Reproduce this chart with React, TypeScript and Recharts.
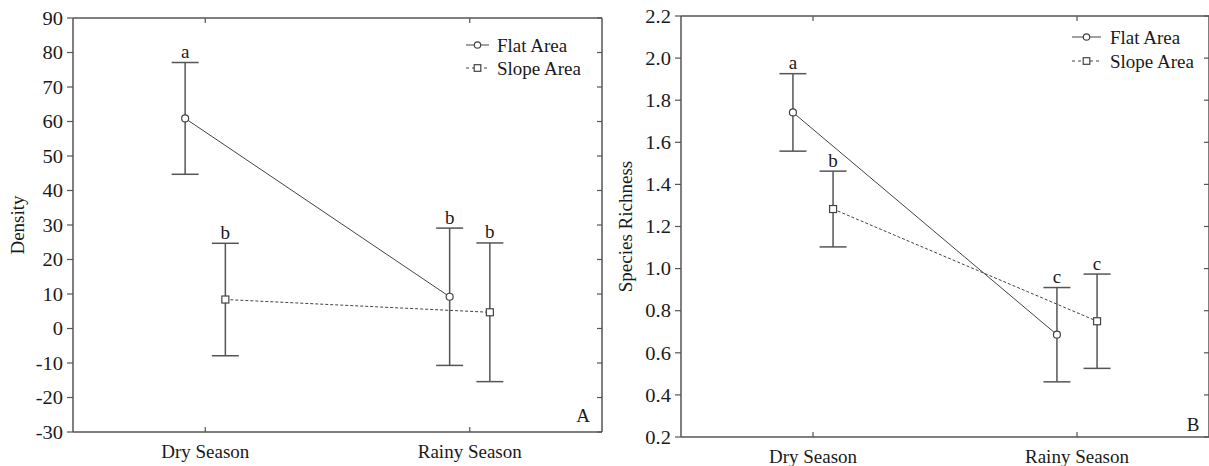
import React from 'react';
import { ComposedChart, Scatter, XAxis, YAxis, ErrorBar, Legend } from 'recharts';

// ---------- data ----------
const seasons = ['Dry Season', 'Rainy Season'];
const groupNames = ['Flat Area', 'Slope Area'];

// Panel A – Density
const densityFlatMean = [60.9, 9.2];
const densityFlatErr = [16.2, 19.9];
const densityFlatLetters = ['a', 'b'];
const densitySlopeMean = [8.4, 4.7];
const densitySlopeErr = [16.3, 20.1];
const densitySlopeLetters = ['b', 'b'];
const densityTicks = [-30, -20, -10, 0, 10, 20, 30, 40, 50, 60, 70, 80, 90];

// Panel B – Species Richness
const richFlatMean = [1.742, 0.686];
const richFlatErr = [0.184, 0.224];
const richFlatLetters = ['a', 'c'];
const richSlopeMean = [1.283, 0.75];
const richSlopeErr = [0.18, 0.224];
const richSlopeLetters = ['b', 'c'];
const richTicks = [0.2, 0.4, 0.6, 0.8, 1.0, 1.2, 1.4, 1.6, 1.8, 2.0, 2.2];

// ---------- styles ----------
const FONT = '"Liberation Serif", "Times New Roman", serif';
const TEXT = '#1a1a1a';
const AXIS = '#555';
const LINE = '#444';
const DODGE = 0.076;
const X_TICK_SIZE = 4;
const X_MARGIN = 15;

const buildSeries = (means: number[], errs: number[], dodge: number) =>
  means.map((m, i) => ({ x: i + dodge, y: m, err: errs[i] }));
const buildLetters = (means: number[], errs: number[], letters: string[], dodge: number) =>
  means.map((m, i) => ({ x: i + dodge, y: m + errs[i], letter: letters[i] }));

const SText = ({ x, y, anchor = 'middle', size = 18, sx = 1, children }: any) => (
  <g transform={`translate(${x},${y}) scale(${sx},1)`}>
    <text x={0} y={0} textAnchor={anchor} dominantBaseline="central" fontFamily={FONT} fontSize={size} fill={TEXT}>
      {children}
    </text>
  </g>
);

const CircleShape = (p: any) => (
  <circle cx={p.cx} cy={p.cy} r={3.5} fill="#fff" stroke={LINE} strokeWidth={1.2} />
);
const SquareShape = (p: any) => (
  <rect x={p.cx - 3.5} y={p.cy - 3.5} width={7} height={7} fill="#fff" stroke={LINE} strokeWidth={1.2} />
);
const LetterShape = (p: any) => (
  <SText x={p.cx} y={p.cy - 11} size={19}>
    {p.payload?.letter}
  </SText>
);
const NoShape = () => <g />;

const makeYTick = (digits: number) => (p: any) => (
  <SText x={p.x} y={p.y} anchor="end" size={19} sx={1.08}>
    {Number(p.payload.value).toFixed(digits)}
  </SText>
);

const XTick = (p: any) => {
  const axisY = p.y - X_MARGIN - X_TICK_SIZE;
  const idx = Math.round(Number(p.payload.value));
  return (
    <g>
      <line x1={p.x} x2={p.x} y1={axisY} y2={axisY - 5} stroke={AXIS} strokeWidth={1.2} />
      <SText x={p.x} y={p.y} size={19}>
        {seasons[idx]}
      </SText>
    </g>
  );
};

const makeTitle = (text: string, dx: number) => (props: any) => {
  const vb = props.viewBox || props;
  const cx = vb.x + dx;
  const cy = vb.y + vb.height / 2;
  return (
    <text
      transform={`translate(${cx},${cy}) rotate(-90)`}
      textAnchor="middle"
      dominantBaseline="central"
      fontFamily={FONT}
      fontSize={19}
      fill={TEXT}
    >
      {text}
    </text>
  );
};

const makeCorner = (text: string, dx: number, dy: number) => (props: any) => {
  const vb = props.viewBox || props;
  return (
    <SText x={vb.x - dx} y={vb.y + vb.height - dy} size={19}>
      {text}
    </SText>
  );
};

const makeLegend = (sampleW: number, gap: number, rowGap: number) => () => (
  <svg width={160} height={52} style={{ display: 'block', overflow: 'visible' }}>
    {groupNames.map((name, i) => {
      const cy = 13 + i * rowGap;
      const x0 = 6;
      const mid = x0 + sampleW / 2;
      return (
        <g key={name}>
          <line
            x1={x0}
            x2={x0 + sampleW}
            y1={cy}
            y2={cy}
            stroke={LINE}
            strokeWidth={1}
            strokeDasharray={i === 1 ? '3 3' : undefined}
          />
          {i === 0 ? (
            <circle cx={mid} cy={cy} r={3.2} fill="#fff" stroke={LINE} strokeWidth={1.2} />
          ) : (
            <rect x={mid - 3.3} y={cy - 3.3} width={6.6} height={6.6} fill="#fff" stroke={LINE} strokeWidth={1.2} />
          )}
          <text x={x0 + sampleW + gap} y={cy} dominantBaseline="central" fontFamily={FONT} fontSize={19} fill={TEXT}>
            {name}
          </text>
        </g>
      );
    })}
  </svg>
);

type PanelProps = {
  width: number;
  height: number;
  margin: any;
  yWidth: number;
  xHeight: number;
  domain: [number, number];
  ticks: number[];
  digits: number;
  flatMean: number[];
  flatErr: number[];
  flatLetters: string[];
  slopeMean: number[];
  slopeErr: number[];
  slopeLetters: string[];
  title: string;
  titleDx: number;
  corner: string;
  cornerDx: number;
  cornerDy: number;
  legendPos: { left: number; top: number };
  legendSample: number;
  legendGap: number;
  legendRow: number;
};

const Panel = (p: PanelProps) => {
  const flat = buildSeries(p.flatMean, p.flatErr, -DODGE);
  const slope = buildSeries(p.slopeMean, p.slopeErr, DODGE);
  const letters = [
    ...buildLetters(p.flatMean, p.flatErr, p.flatLetters, -DODGE),
    ...buildLetters(p.slopeMean, p.slopeErr, p.slopeLetters, DODGE),
  ];
  const YTick = makeYTick(p.digits);
  return (
    <ComposedChart width={p.width} height={p.height} margin={p.margin}>
      <XAxis
        xAxisId="bottom"
        dataKey="x"
        type="number"
        domain={[-0.5, 1.5]}
        ticks={[0, 1]}
        interval={0}
        allowDataOverflow
        height={p.xHeight}
        tickLine={false}
        tickSize={X_TICK_SIZE}
        tickMargin={X_MARGIN}
        tick={XTick}
        axisLine={{ stroke: AXIS, strokeWidth: 1.5 }}
      />
      <XAxis
        xAxisId="top"
        dataKey="x"
        type="number"
        orientation="top"
        mirror
        domain={[-0.5, 1.5]}
        ticks={[0, 1]}
        interval={0}
        allowDataOverflow
        height={1}
        tickSize={5}
        tickFormatter={() => ''}
        tickLine={{ stroke: AXIS, strokeWidth: 1.2 }}
        axisLine={{ stroke: AXIS, strokeWidth: 1.5 }}
      />
      <YAxis
        yAxisId="left"
        dataKey="y"
        type="number"
        domain={p.domain}
        ticks={p.ticks}
        interval={0}
        allowDataOverflow
        width={p.yWidth}
        tickSize={6}
        tickMargin={4}
        tick={YTick}
        tickLine={{ stroke: AXIS, strokeWidth: 1.2 }}
        axisLine={{ stroke: AXIS, strokeWidth: 1.5 }}
        label={makeTitle(p.title, p.titleDx)}
      />
      <YAxis
        yAxisId="right"
        dataKey="y"
        type="number"
        orientation="right"
        mirror
        domain={p.domain}
        ticks={p.ticks}
        interval={0}
        allowDataOverflow
        width={1}
        tickSize={5}
        tickFormatter={() => ''}
        tickLine={{ stroke: AXIS, strokeWidth: 1.2 }}
        axisLine={{ stroke: AXIS, strokeWidth: 1.5 }}
        label={makeCorner(p.corner, p.cornerDx, p.cornerDy)}
      />
      <Legend
        layout="horizontal"
        verticalAlign="middle"
        align="center"
        content={makeLegend(p.legendSample, p.legendGap, p.legendRow)}
        wrapperStyle={{ position: 'absolute', left: p.legendPos.left, top: p.legendPos.top, width: 160, height: 52 }}
      />
      <Scatter
        name="frame"
        data={flat}
        xAxisId="top"
        yAxisId="right"
        legendType="none"
        shape={NoShape}
        isAnimationActive={false}
      />
      <Scatter
        name={groupNames[0]}
        data={flat}
        xAxisId="bottom"
        yAxisId="left"
        line={{ stroke: LINE, strokeWidth: 1 }}
        shape={CircleShape}
        isAnimationActive={false}
      >
        <ErrorBar dataKey="err" direction="y" width={13.5} stroke={AXIS} strokeWidth={1.5} isAnimationActive={false} />
      </Scatter>
      <Scatter
        name={groupNames[1]}
        data={slope}
        xAxisId="bottom"
        yAxisId="left"
        line={{ stroke: LINE, strokeWidth: 1, strokeDasharray: '3 2' }}
        shape={SquareShape}
        isAnimationActive={false}
      >
        <ErrorBar dataKey="err" direction="y" width={13.5} stroke={AXIS} strokeWidth={1.5} isAnimationActive={false} />
      </Scatter>
      <Scatter
        name="letters"
        data={letters}
        xAxisId="bottom"
        yAxisId="left"
        legendType="none"
        shape={LetterShape}
        isAnimationActive={false}
      />
    </ComposedChart>
  );
};

export default function App() {
  return (
    <div style={{ position: 'absolute', left: 0, top: 0, width: 1209, height: 466, background: '#fff', overflow: 'hidden' }}>
      <div style={{ position: 'absolute', left: 0, top: 0 }}>
        <Panel
          width={610}
          height={466}
          margin={{ top: 18, right: 8, bottom: 0, left: 0 }}
          yWidth={73}
          xHeight={34}
          domain={[-30, 90]}
          ticks={densityTicks}
          digits={0}
          flatMean={densityFlatMean}
          flatErr={densityFlatErr}
          flatLetters={densityFlatLetters}
          slopeMean={densitySlopeMean}
          slopeErr={densitySlopeErr}
          slopeLetters={densitySlopeLetters}
          title="Density"
          titleDx={17}
          corner="A"
          cornerDx={18}
          cornerDy={17}
          legendPos={{ left: 460, top: 32 }}
          legendSample={23}
          legendGap={8}
          legendRow={23}
        />
      </div>
      <div style={{ position: 'absolute', left: 610, top: 0 }}>
        <Panel
          width={599}
          height={466}
          margin={{ top: 16, right: 0, bottom: 0, left: 0 }}
          yWidth={71}
          xHeight={29}
          domain={[0.2, 2.2]}
          ticks={richTicks}
          digits={1}
          flatMean={richFlatMean}
          flatErr={richFlatErr}
          flatLetters={richFlatLetters}
          slopeMean={richSlopeMean}
          slopeErr={richSlopeErr}
          slopeLetters={richSlopeLetters}
          title="Species Richness"
          titleDx={15}
          corner="B"
          cornerDx={15}
          cornerDy={13}
          legendPos={{ left: 456, top: 24 }}
          legendSample={29}
          legendGap={9}
          legendRow={24}
        />
      </div>
    </div>
  );
}
